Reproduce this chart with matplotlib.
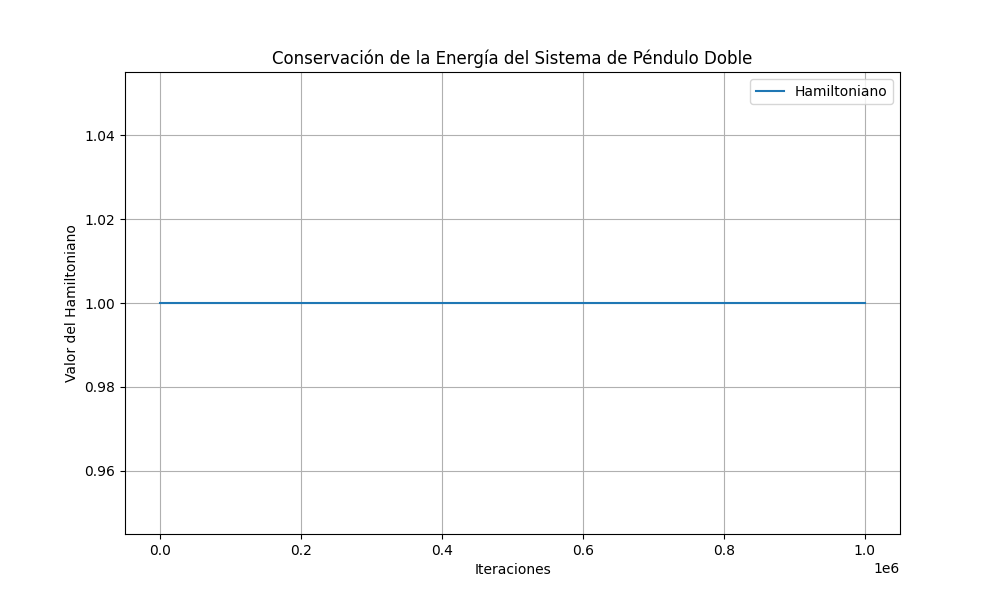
import matplotlib
matplotlib.use("Agg")
import matplotlib.pyplot as plt

# energy stays at 1.0 over the whole run
iteraciones = [0, 250000, 500000, 750000, 1000000]
hamiltoniano = [1.0, 1.0, 1.0, 1.0, 1.0]

fig, ax = plt.subplots(figsize=(10, 6), dpi=100)
ax.plot(iteraciones, hamiltoniano, label="Hamiltoniano")
ax.set_title("Conservación de la Energía del Sistema de Péndulo Doble")
ax.set_xlabel("Iteraciones")
ax.set_ylabel("Valor del Hamiltoniano")
ax.legend()
ax.grid(True)
fig.savefig("out.png")
